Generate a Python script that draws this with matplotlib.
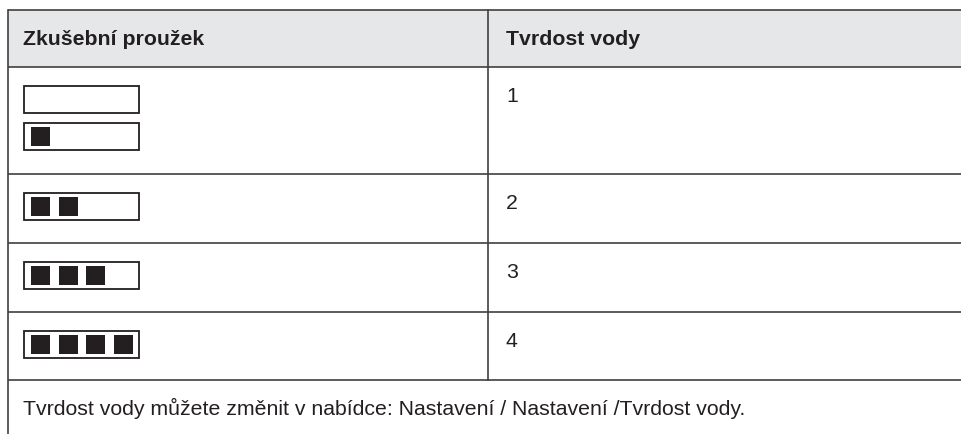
import matplotlib.pyplot as plt
from matplotlib.patches import Rectangle

# table content
headers = ['Zkušební proužek', 'Tvrdost vody']
hardness = ['1', '2', '3', '4']
filled = [[0, 1], [2], [3], [4]]    # filled squares per test strip in each row
note = 'Tvrdost vody můžete změnit v nabídce: Nastavení / Nastavení /Tvrdost vody.'

# layout in pixels
W, H = 962, 434
left, col2, right = 8, 488, W
top, head_bot = 10, 67
row_h = [107, 69, 69, 68]
line_c = '#404040'
text_c = '#231f20'
head_fill = '#e6e7e8'
fs = 15.3

plt.rcParams['font.family'] = ['Liberation Sans', 'DejaVu Sans']
fig = plt.figure(figsize=(W / 100, H / 100), dpi=100)
ax = fig.add_axes([0, 0, 1, 1])
ax.set_xlim(0, W)
ax.set_ylim(H, 0)
ax.axis('off')

# header
ax.add_patch(Rectangle((left, top), right - left, head_bot - top, fc=head_fill, ec='none'))
for x, t in zip([left + 15, col2 + 18], headers):
    ax.text(x, 45, t, fontsize=fs, fontweight='bold', color=text_c,
            ha='left', va='baseline')

# rows
y = head_bot
bounds = [top, head_bot]
for h, val, strips in zip(row_h, hardness, filled):
    for k, n in enumerate(strips):
        sy = y + 18.5 + 37 * k
        ax.add_patch(Rectangle((24, sy), 115, 27, fc='white', ec=text_c, lw=1.3))
        for j in range(n):
            ax.add_patch(Rectangle((31 + 27.7 * j, sy + 4), 19, 19, fc=text_c, ec='none'))
    ax.text(col2 + 18, y + 35, val, fontsize=fs, color=text_c, ha='left', va='baseline')
    y += h
    bounds.append(y)

for b in bounds:
    ax.plot([left, right], [b, b], color=line_c, lw=1.2, solid_capstyle='butt')
ax.plot([left, left], [top, H], color=line_c, lw=1.2)
ax.plot([col2, col2], [top, bounds[-1]], color=line_c, lw=1.2)

# footnote
ax.text(left + 15, bounds[-1] + 35, note, fontsize=fs, color=text_c, ha='left', va='baseline')

fig.savefig('out.png', dpi=100)
